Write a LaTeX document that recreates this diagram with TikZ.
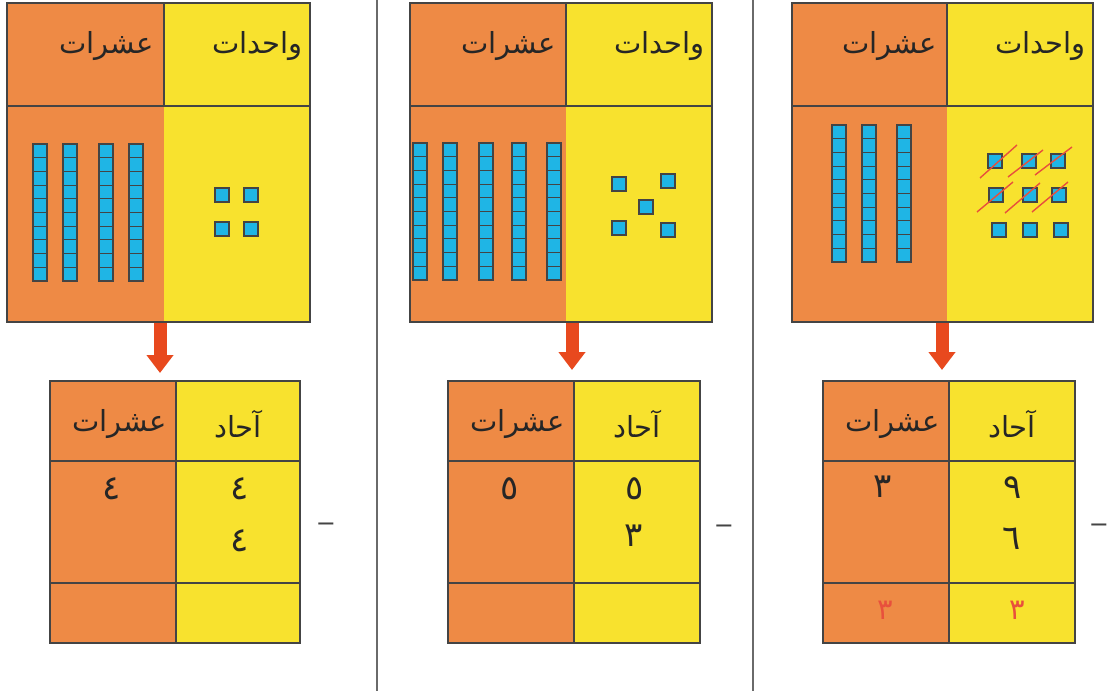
\documentclass[tikz,border=0pt]{standalone}
\usepackage{fontspec}
\TeXXeTstate=1
\newfontfamily\arabicfont[Script=Arabic]{DejaVu Sans}
\newfontfamily\symfont{DejaVu Sans}
\usetikzlibrary{arrows.meta}
\definecolor{org}{HTML}{EE8A45}
\definecolor{yel}{HTML}{F8E22E}
\definecolor{cub}{HTML}{1FB5E5}
\definecolor{arr}{HTML}{E8491E}
\definecolor{rdt}{HTML}{E8503C}
\definecolor{lin}{HTML}{444444}
\definecolor{sepc}{HTML}{6A6A6A}
\tikzset{
  grid/.style={draw=lin, line width=1.1pt},
  cube/.style={fill=cub, draw=lin, line width=1.1pt},
  slash/.style={draw=rdt, line width=1.4pt},
  sepline/.style={draw=sepc, line width=1.6pt},
  bigarrow/.style={draw=arr, line width=13pt, -{Triangle[width=26pt,length=18pt]}},
  head/.style={font=\arabicfont\fontsize{29}{33}\selectfont, inner sep=0pt, text=black!85},
  digit/.style={font=\arabicfont\fontsize{34}{38}\selectfont, inner sep=0pt, text=black!85},
  rdigit/.style={font=\arabicfont\fontsize{29}{33}\selectfont, inner sep=0pt, text=rdt},
  minus/.style={font=\symfont\fontsize{24}{28}\selectfont, inner sep=0pt, text=lin}
}
% top panel: #1 prefix, #2 left, #3 divider, #4 right
\newcommand\toppanel[4]{%
  \fill[org] (#2,3) rectangle (#3,322);
  \fill[yel] (#3,3) rectangle (#4,322);
  \draw[grid] (#2,3) rectangle (#4,322) (#2,106) -- (#4,106) (#3,3) -- (#3,106);
  \node[head, anchor=east] (#1tens) at (#3-10,46) {\beginR عشرات\endR};
  \node[head, anchor=east] (#1units) at (#4-7,46) {\beginR واحدات\endR};
}
% value table: #1 prefix, #2 left, #3 divider, #4 right
\newcommand\valtable[4]{%
  \fill[org] (#2,381) rectangle (#3,643);
  \fill[yel] (#3,381) rectangle (#4,643);
  \draw[grid] (#2,381) rectangle (#4,643) (#2,461) -- (#4,461) (#2,583) -- (#4,583) (#3,381) -- (#3,643);
  \node[head, anchor=east] (#1tens) at (#3-9,424) {\beginR عشرات\endR};
  \node[head] (#1ones) at ({(#3+#4)/2},424) {\beginR آحاد\endR};
}
\newcommand\rod[2]{%
  \foreach \i in {0,...,9} {\draw[cube] (#1,#2+\i*13.7) rectangle ++(14,13.7);}
}
\newcommand\unit[2]{\draw[cube] (#1,#2) rectangle ++(14,14);}
\begin{document}
\begin{tikzpicture}[x=1pt,y=-1pt]
\useasboundingbox (0,0) rectangle (1112,691);
\fill[white] (0,0) rectangle (1112,691);
% separators
\draw[sepline] (377,0) -- (377,691);
\draw[sepline] (753,0) -- (753,691);
% ---------- panel 1 ----------
\toppanel{a}{7}{164}{310}
\rod{33}{144}\rod{63}{144}\rod{99}{144}\rod{129}{144}
\unit{215}{188}\unit{244}{188}\unit{215}{222}\unit{244}{222}
\valtable{A}{50}{176}{300}
\coordinate (aout) at (160,323);
\coordinate (ain) at (160,373);
\draw[bigarrow] (aout) -- (ain);
\node[digit] (A1) at (112,489) {٤};
\node[digit] (A2) at (240,489) {٤};
\node[digit] (A3) at (240,541) {٤};
\node[minus] (Am) at (326,527) {−};
% ---------- panel 2 ----------
\toppanel{b}{410}{566}{712}
\rod{413}{143}\rod{443}{143}\rod{479}{143}\rod{512}{143}\rod{547}{143}
\unit{612}{177}\unit{661}{174}\unit{639}{200}\unit{612}{221}\unit{661}{223}
\valtable{B}{448}{574}{700}
\coordinate (bout) at (572,323);
\coordinate (bin) at (572,370);
\draw[bigarrow] (bout) -- (bin);
\node[digit] (B1) at (510,489) {٥};
\node[digit] (B2) at (635,489) {٥};
\node[digit] (B3) at (634,536) {٣};
\node[minus] (Bm) at (724,529) {−};
% ---------- panel 3 ----------
\toppanel{c}{792}{947}{1093}
\rod{832}{125}\rod{862}{125}\rod{897}{125}
\unit{988}{154}\unit{1022}{154}\unit{1051}{154}
\unit{989}{188}\unit{1023}{188}\unit{1052}{188}
\unit{992}{223}\unit{1023}{223}\unit{1054}{223}
\draw[slash] (980,178) -- (1017,145);
\draw[slash] (1008,177) -- (1043,150);
\draw[slash] (1035,175) -- (1072,147);
\draw[slash] (977,212) -- (1013,182);
\draw[slash] (1005,213) -- (1040,183);
\draw[slash] (1032,212) -- (1068,182);
\valtable{C}{823}{949}{1075}
\coordinate (cout) at (942,323);
\coordinate (cin) at (942,370);
\draw[bigarrow] (cout) -- (cin);
\node[digit] (C1) at (883,487) {٣};
\node[digit] (C2) at (1013,488) {٩};
\node[digit] (C3) at (1012,539) {٦};
\node[rdigit] (C4) at (885,610) {٣};
\node[rdigit] (C5) at (1017,610) {٣};
\node[minus] (Cm) at (1099,528) {−};
\end{tikzpicture}
\end{document}
